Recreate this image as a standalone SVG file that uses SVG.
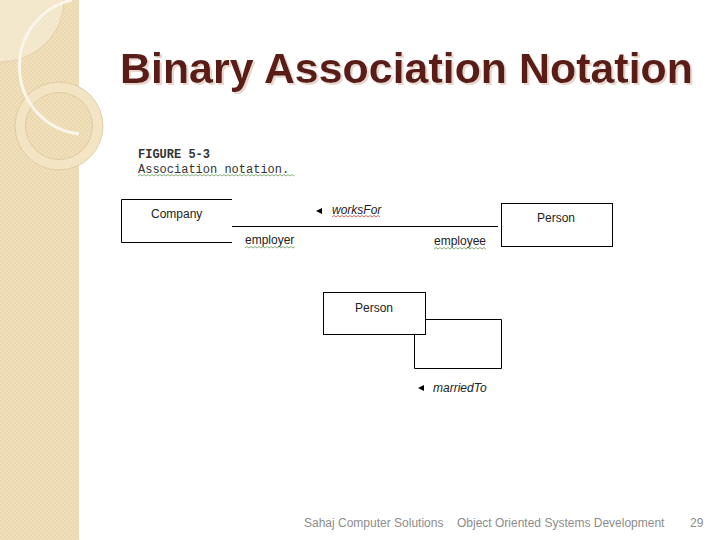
<svg xmlns="http://www.w3.org/2000/svg" width="720" height="540" viewBox="0 0 720 540">
<style>
.title{font-family:"Liberation Sans",Arial,sans-serif;font-weight:bold;font-size:42px;fill:#5a1e14}
.lbl{font-family:"Liberation Sans",Arial,sans-serif;font-size:12px;fill:#222}
.it{font-style:italic}
.mono{font-family:"Liberation Mono","Courier New",monospace;font-size:12px;fill:#333}
.foot{font-family:"Liberation Sans",Arial,sans-serif;font-size:12px;fill:#8c8c8c}
.box{fill:#fff;stroke:#000;stroke-width:1}
.line{fill:none;stroke:#000;stroke-width:1}
.sq{fill:none;stroke:#6a9a5a;stroke-width:0.8}
.sqr{fill:none;stroke:#c04040;stroke-width:0.8}
</style>
<defs>
<pattern id="tex" width="4" height="4" patternUnits="userSpaceOnUse">
<rect width="4" height="4" fill="#efdfba"/>
<rect width="2" height="2" fill="#ecd9b0"/>
<rect x="2" y="2" width="2" height="2" fill="#ecd9b0"/>
</pattern>
<filter id="shd" x="-5%" y="-20%" width="110%" height="150%">
<feDropShadow dx="2" dy="2" stdDeviation="0.5" flood-color="#ead6cc" flood-opacity="1"/>
</filter>
</defs>
<rect width="720" height="540" fill="#fff"/>
<g id="sidebar">
<rect x="0" y="0" width="79" height="540" fill="url(#tex)"/>
<path d="M0 0 H64 A64 62 0 0 1 0 62 Z" fill="#f5ead2" opacity="0.8"/>
<path d="M0 62 A64 62 0 0 0 64 0" fill="none" stroke="#d8c39a" stroke-width="0.6"/>
<circle cx="59" cy="126" r="44" fill="#f3e4c4" stroke="#d6c197" stroke-width="0.7"/>
<circle cx="59" cy="126" r="33.5" fill="url(#tex)" stroke="#d6c197" stroke-width="0.7"/>
<path d="M72 0 A67 68 0 0 0 79 134" fill="none" stroke="#fbf6ea" stroke-width="3"/>
</g>
<g id="title">
<text class="title" x="120" y="83" textLength="573" lengthAdjust="spacingAndGlyphs" filter="url(#shd)">Binary Association Notation</text>
</g>
<g id="caption">
<text class="mono" x="138" y="158" font-weight="bold">FIGURE 5-3</text>
<text class="mono" x="138" y="173">Association notation.</text>
<path class="sq" d="M138 176 l2 -1.5 l2 1.5 l2 -1.5 l2 1.5 l2 -1.5 l2 1.5 l2 -1.5 l2 1.5 l2 -1.5 l2 1.5 l2 -1.5 l2 1.5 l2 -1.5 l2 1.5 l2 -1.5 l2 1.5 l2 -1.5 l2 1.5 l2 -1.5 l2 1.5 l2 -1.5 l2 1.5 l2 -1.5 l2 1.5 l2 -1.5 l2 1.5 l2 -1.5 l2 1.5 l2 -1.5 l2 1.5 l2 -1.5 l2 1.5 l2 -1.5 l2 1.5 l2 -1.5 l2 1.5 l2 -1.5 l2 1.5 l2 -1.5 l2 1.5 l2 -1.5 l2 1.5 l2 -1.5 l2 1.5 l2 -1.5 l2 1.5 l2 -1.5 l2 1.5 l2 -1.5 l2 1.5 l2 -1.5 l2 1.5 l2 -1.5 l2 1.5 l2 -1.5 l2 1.5 l2 -1.5 l2 1.5 l2 -1.5 l2 1.5 l2 -1.5 l2 1.5 l2 -1.5 l2 1.5 l2 -1.5 l2 1.5 l2 -1.5 l2 1.5 l2 -1.5 l2 1.5 l2 -1.5 l2 1.5 l2 -1.5 l2 1.5 l2 -1.5 l2 1.5 l2 -1.5 l2 1.5"/>
</g>
<g id="company">
<path class="line" d="M232 199.5 H121.5 V242.5 H232"/>
<text class="lbl" x="151" y="218">Company</text>
</g>
<g id="person1">
<rect class="box" x="501.5" y="203.5" width="111" height="43"/>
<text class="lbl" x="556" y="222" text-anchor="middle">Person</text>
</g>
<g id="person2">
<path class="line" d="M425 319.5 H501.5 V368.5 H414.5 V334"/>
<rect class="box" x="323.5" y="292.5" width="102" height="42"/>
<text class="lbl" x="374" y="312" text-anchor="middle">Person</text>
</g>
<g id="connectors">
<line class="line" x1="232" y1="226.5" x2="498" y2="226.5"/>
<polygon points="316,211 322,208 322,214" fill="#000"/>
<text class="lbl it" x="332" y="214">worksFor</text>
<path class="sqr" d="M332 217 l2 -1.5 l2 1.5 l2 -1.5 l2 1.5 l2 -1.5 l2 1.5 l2 -1.5 l2 1.5 l2 -1.5 l2 1.5 l2 -1.5 l2 1.5 l2 -1.5 l2 1.5 l2 -1.5 l2 1.5 l2 -1.5 l2 1.5 l2 -1.5 l2 1.5 l2 -1.5 l2 1.5 l2 -1.5 l2 1.5"/>
<text class="lbl" x="245" y="244">employer</text>
<path class="sq" d="M245 248 l2 -1.5 l2 1.5 l2 -1.5 l2 1.5 l2 -1.5 l2 1.5 l2 -1.5 l2 1.5 l2 -1.5 l2 1.5 l2 -1.5 l2 1.5 l2 -1.5 l2 1.5 l2 -1.5 l2 1.5 l2 -1.5 l2 1.5 l2 -1.5 l2 1.5 l2 -1.5 l2 1.5 l2 -1.5 l2 1.5 l2 -1.5"/>
<text class="lbl" x="434" y="245">employee</text>
<path class="sq" d="M434 249 l2 -1.5 l2 1.5 l2 -1.5 l2 1.5 l2 -1.5 l2 1.5 l2 -1.5 l2 1.5 l2 -1.5 l2 1.5 l2 -1.5 l2 1.5 l2 -1.5 l2 1.5 l2 -1.5 l2 1.5 l2 -1.5 l2 1.5 l2 -1.5 l2 1.5 l2 -1.5 l2 1.5 l2 -1.5 l2 1.5 l2 -1.5 l2 1.5"/>
<polygon points="418,388 424,385 424,391" fill="#000"/>
<text class="lbl it" x="433" y="392">marriedTo</text>
</g>
<g id="footer">
<text class="foot" x="304" y="527">Sahaj Computer Solutions</text>
<text class="foot" x="457" y="527">Object Oriented Systems Development</text>
<text class="foot" x="690" y="527">29</text>
</g>
</svg>
